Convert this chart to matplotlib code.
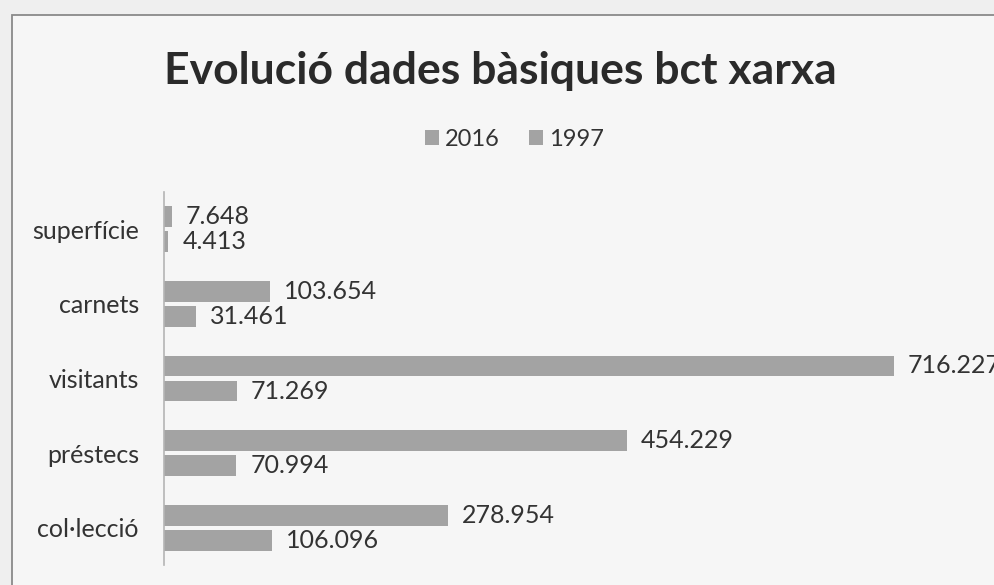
import numpy as np
import matplotlib.pyplot as plt
from matplotlib.patches import Rectangle

plt.rcParams['font.family'] = ['Lato', 'DejaVu Sans']

categories = ['superfície', 'carnets', 'visitants', 'préstecs', 'col·lecció']
vals_2016 = [7648, 103654, 716227, 454229, 278954]
vals_1997 = [4413, 31461, 71269, 70994, 106096]
series_names = ['2016', '1997']

bar_color = '#a3a3a3'
text_color = '#333333'


def fmt(v):
    return f'{v:,}'.replace(',', '.')


fig = plt.figure(figsize=(9.95, 5.85), dpi=100)
fig.patch.set_facecolor('#efefef')

# chart frame (cropped on right and bottom)
frame = Rectangle((12 / 995, -0.05), 1.1, 1 - 15 / 585 + 0.05,
                  transform=fig.transFigure, facecolor='#f6f6f6',
                  edgecolor='#8a8a8a', linewidth=1.3, zorder=-10)
fig.patches.append(frame)

ax = fig.add_axes([164 / 995, 0.034, 1 - 164 / 995, 0.638])
ax.set_facecolor('none')

y = np.arange(len(categories))
h = 0.28
off = 0.168
b1 = ax.barh(y - off, vals_2016, height=h, color=bar_color, label=series_names[0])
b2 = ax.barh(y + off, vals_1997, height=h, color=bar_color, label=series_names[1])

for bars, vals in [(b1, vals_2016), (b2, vals_1997)]:
    for rect, v in zip(bars, vals):
        ax.text(v + 13500, rect.get_y() + rect.get_height() / 2, fmt(v),
                va='center', ha='left', fontsize=18, color=text_color)

ax.set_xlim(0, 815000)
ax.set_ylim(len(categories) - 0.5, -0.5)
ax.set_yticks(y)
ax.set_yticklabels(categories, fontsize=18, color=text_color)
ax.tick_params(axis='y', length=0, pad=18)
ax.set_xticks([])
for s in ['top', 'right', 'bottom']:
    ax.spines[s].set_visible(False)
ax.spines['left'].set_color('#b5b5b5')
ax.spines['left'].set_linewidth(1.2)

fig.text(0.503, 0.878, 'Evolució dades bàsiques bct xarxa', ha='center', va='center',
         fontsize=32, fontweight='bold', color='#2a2a2a')

fig.legend(handles=[b1, b2], labels=series_names, loc='center', bbox_to_anchor=(0.517, 0.762),
           ncol=2, frameon=False, fontsize=17, handlelength=0.6, handleheight=0.6,
           handletextpad=0.25, columnspacing=1.2, labelcolor=text_color)

fig.savefig('out.png', dpi=100, facecolor=fig.get_facecolor())
